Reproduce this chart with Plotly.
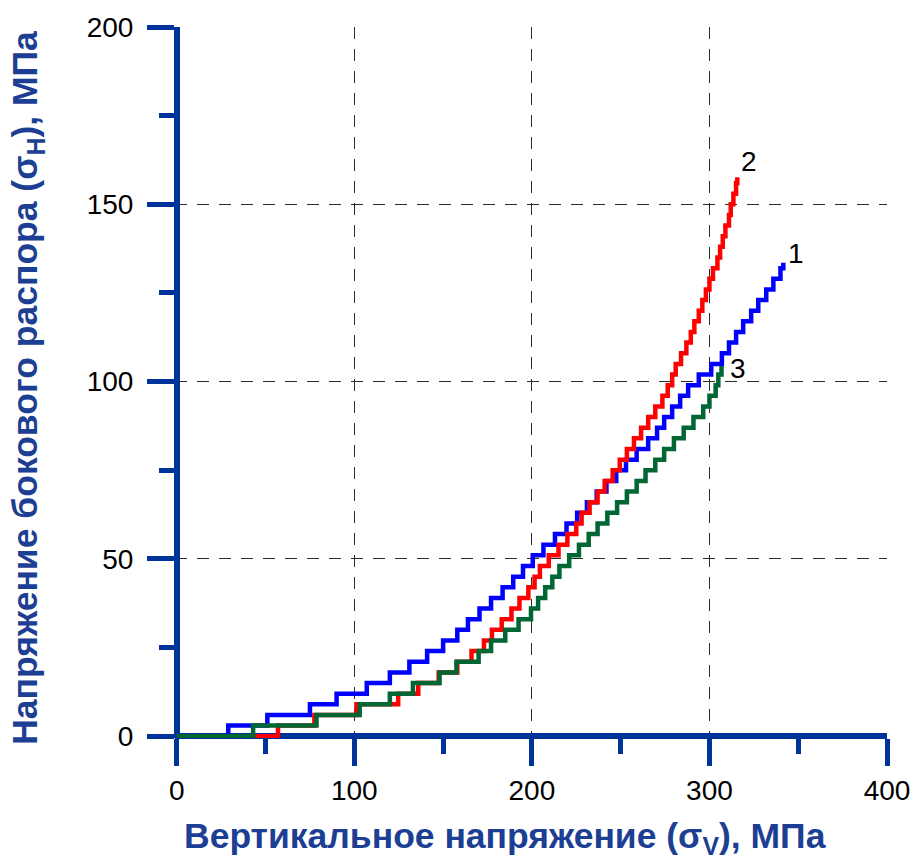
import plotly.graph_objects as go

# Curve 1 (blue): step corners, sigma_V (x) and sigma_H (y), MPa
blue_x = [0, 29, 51, 75, 90, 107, 120, 131, 141, 150, 158, 164, 170.5, 177, 183.5, 189.5, 195, 200.5,
          206.5, 213, 219.5, 225.5, 231, 236.5, 242, 247.5, 253, 259, 265.5, 270.5, 274.5, 279, 283.5,
          288, 294, 301, 307, 311, 315, 319, 323.5, 327.5, 332, 336, 340, 341.6]
blue_y = [0, 3, 6, 9, 12, 15, 18, 21, 24, 27, 30, 33, 36, 39, 42, 45, 48, 51, 54, 57, 60, 63, 66, 69,
          72, 75, 78, 81, 84, 87, 90, 93, 96, 99, 102, 105, 108, 111, 114, 117, 120, 123, 126, 129,
          132, 133.5]

# Curve 2 (red)
red_x = [0, 57, 77.5, 101.2, 124.7, 136, 147.5, 158, 166, 173, 177.5, 183, 188.5, 193, 198, 201.5,
         204.5, 209.5, 215, 220, 225, 228, 232.5, 237, 241, 245.5, 249.5, 253.5, 257.5, 261.5, 265.5,
         269.5, 273.5, 276.5, 279, 281, 284, 287, 289.5, 291.5, 294, 296, 298, 300, 302, 304.5, 306,
         307.5, 309, 311, 312, 313.5, 315, 315.7]
red_y = [0, 3, 6, 9, 12, 15, 18, 21, 24, 27, 30, 33, 36, 39, 42, 45, 48, 51, 54, 57, 60, 63, 66, 69,
         72, 75, 78, 81, 84, 87, 90, 93, 96, 99, 102, 105, 108, 111, 114, 117, 120, 123, 126, 129,
         132, 135, 138, 141, 144, 147, 150, 153, 156, 157.6]

# Curve 3 (green)
green_x = [0, 43, 78.7, 103, 120, 133, 148, 157.5, 170, 177, 185, 192.5, 199.5, 203.5, 207.5, 211.5,
           215.5, 221, 226.5, 232, 237, 242.5, 248, 253.5, 259, 264, 269.5, 274.5, 280, 285.5, 291,
           296.5, 300, 303.5, 305, 306.8]
green_y = [0, 3, 6, 9, 12, 15, 18, 21, 24, 27, 30, 33, 36, 39, 42, 45, 48, 51, 54, 57, 60, 63, 66, 69,
           72, 75, 78, 81, 84, 87, 90, 93, 96, 99, 102, 104.4]

curve_labels = ["1", "2", "3"]

AXIS = "#003399"
TITLE = "#1C3F94"
FONT = "Liberation Sans, Arial, sans-serif"

fig = go.Figure()
series = [(blue_x, blue_y, "#0000FF"), (red_x, red_y, "#FF0000"), (green_x, green_y, "#006633")]
for xs, ys, col in series:
    fig.add_trace(go.Scatter(x=xs, y=ys, mode="lines", line=dict(color=col, width=4.5, shape="hv"),
                             cliponaxis=False, showlegend=False, hoverinfo="skip"))

shifts = [(13, 9), (12, 16), (16, -2)]
for (xs, ys, col), lab, (dx, dy) in zip(series, curve_labels, shifts):
    fig.add_annotation(x=xs[-1], y=ys[-1], text=lab, showarrow=False, xshift=dx, yshift=dy,
                       font=dict(family=FONT, size=28, color="black"), xanchor="center", yanchor="middle")

common = dict(ticks="outside", ticklen=27, tickwidth=5, tickcolor=AXIS, showline=False,
              zeroline=True, zerolinecolor=AXIS, zerolinewidth=6, automargin=False,
              showgrid=True, gridcolor="#2a2a2a", gridwidth=1.3, griddash="12px,10px",
              tickfont=dict(family=FONT, size=28, color="black"))

fig.update_xaxes(range=[-1, 400], tick0=0, dtick=100, ticklabelstandoff=0,
                 minor=dict(dtick=50, tick0=0, ticks="outside", ticklen=15, tickwidth=5,
                            tickcolor=AXIS, showgrid=False), **common)
fig.update_yaxes(range=[-0.5, 200], tick0=0, dtick=50, ticklabelstandoff=8,
                 minor=dict(dtick=25, tick0=0, ticks="outside", ticklen=15, tickwidth=5,
                            tickcolor=AXIS, showgrid=False), **common)

fig.add_annotation(xref="paper", yref="paper", x=0.464, y=-0.141, showarrow=False,
                   text="<b>Вертикальное напряжение (σ<sub>V</sub>), МПа</b>",
                   font=dict(family=FONT, size=35.5, color=TITLE), xanchor="center", yanchor="middle")
fig.add_annotation(xref="paper", yref="paper", x=-0.207, y=0.492, showarrow=False, textangle=-90,
                   text="<b>Напряжение бокового распора (σ<sub>H</sub>), МПа</b>",
                   font=dict(family=FONT, size=35.5, color=TITLE), xanchor="center", yanchor="middle")

fig.update_layout(width=914, height=864, autosize=False,
                  margin=dict(l=175, r=27, t=27, b=126, autoexpand=False),
                  plot_bgcolor="white", paper_bgcolor="white")

fig.write_html("out.html")
